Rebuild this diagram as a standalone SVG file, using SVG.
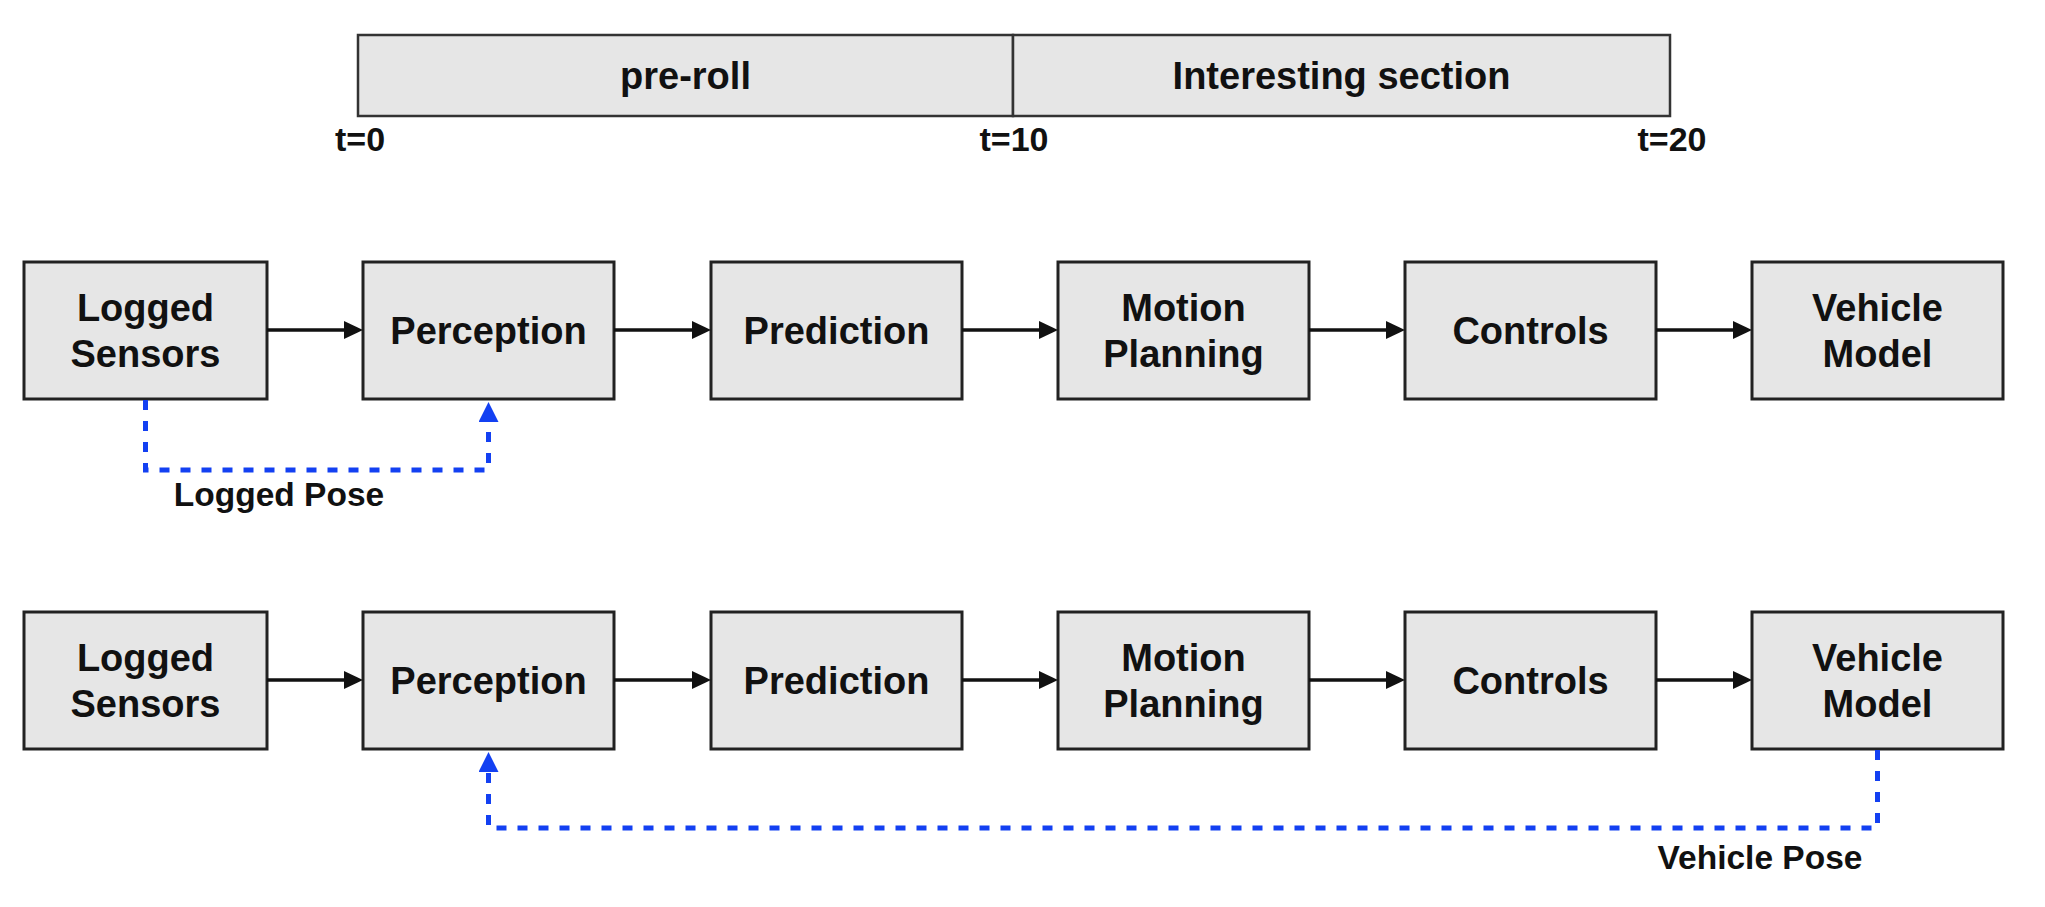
<svg xmlns="http://www.w3.org/2000/svg" width="2045" height="907" viewBox="0 0 2045 907">
<style>
  .box { fill: #e6e6e6; stroke: #222; stroke-width: 3; }
  .tl { fill: #e6e6e6; stroke: #333; stroke-width: 2.5; }
  .lbl { font-family: "Liberation Sans", Arial, Helvetica, sans-serif; font-weight: bold; font-size: 38px; fill: #111; text-anchor: middle; }
  .tlbl { font-family: "Liberation Sans", Arial, Helvetica, sans-serif; font-weight: bold; font-size: 34px; fill: #111; text-anchor: middle; }
  .plbl { font-family: "Liberation Sans", Arial, Helvetica, sans-serif; font-weight: bold; font-size: 33.5px; fill: #111; text-anchor: middle; }
  .flow { stroke: #111; stroke-width: 3.5; fill: none; marker-end: url(#ah); }
  .pose { stroke: #1340f2; stroke-width: 5; fill: none; stroke-dasharray: 10 11; marker-end: url(#bh); }
</style>
<defs>
  <marker id="ah" viewBox="0 0 19 18" markerWidth="19" markerHeight="18" markerUnits="userSpaceOnUse" refX="13" refY="9" orient="auto">
    <path d="M0,0 L19,9 L0,18 z" fill="#111"/>
  </marker>
  <marker id="bh" viewBox="0 0 20 20" markerWidth="20" markerHeight="20" markerUnits="userSpaceOnUse" refX="0" refY="10" orient="auto">
    <path d="M0,0 L20,10 L0,20 z" fill="#1340f2"/>
  </marker>
</defs>

<g id="timeline">
  <g id="pre-roll">
    <rect class="tl" x="358" y="35" width="655" height="81"/>
    <text class="lbl" x="685.5" y="89">pre-roll</text>
  </g>
  <g id="interesting-section">
    <rect class="tl" x="1013" y="35" width="657" height="81"/>
    <text class="lbl" x="1341.5" y="89">Interesting section</text>
  </g>
  <text class="tlbl" x="360" y="151">t=0</text>
  <text class="tlbl" x="1014" y="151">t=10</text>
  <text class="tlbl" x="1672" y="151">t=20</text>
</g>

<!-- Top row -->
<g id="top-logged-sensors">
  <rect class="box" x="24" y="262" width="243" height="137"/>
  <text class="lbl" x="145.5" y="321">Logged</text>
  <text class="lbl" x="145.5" y="367">Sensors</text>
</g>
<g id="top-perception">
  <rect class="box" x="363" y="262" width="251" height="137"/>
  <text class="lbl" x="488.5" y="344">Perception</text>
</g>
<g id="top-prediction">
  <rect class="box" x="711" y="262" width="251" height="137"/>
  <text class="lbl" x="836.5" y="344">Prediction</text>
</g>
<g id="top-motion-planning">
  <rect class="box" x="1058" y="262" width="251" height="137"/>
  <text class="lbl" x="1183.5" y="321">Motion</text>
  <text class="lbl" x="1183.5" y="367">Planning</text>
</g>
<g id="top-controls">
  <rect class="box" x="1405" y="262" width="251" height="137"/>
  <text class="lbl" x="1530.5" y="344">Controls</text>
</g>
<g id="top-vehicle-model">
  <rect class="box" x="1752" y="262" width="251" height="137"/>
  <text class="lbl" x="1877.5" y="321">Vehicle</text>
  <text class="lbl" x="1877.5" y="367">Model</text>
</g>

<!-- Bottom row -->
<g id="bot-logged-sensors">
  <rect class="box" x="24" y="612" width="243" height="137"/>
  <text class="lbl" x="145.5" y="671">Logged</text>
  <text class="lbl" x="145.5" y="717">Sensors</text>
</g>
<g id="bot-perception">
  <rect class="box" x="363" y="612" width="251" height="137"/>
  <text class="lbl" x="488.5" y="694">Perception</text>
</g>
<g id="bot-prediction">
  <rect class="box" x="711" y="612" width="251" height="137"/>
  <text class="lbl" x="836.5" y="694">Prediction</text>
</g>
<g id="bot-motion-planning">
  <rect class="box" x="1058" y="612" width="251" height="137"/>
  <text class="lbl" x="1183.5" y="671">Motion</text>
  <text class="lbl" x="1183.5" y="717">Planning</text>
</g>
<g id="bot-controls">
  <rect class="box" x="1405" y="612" width="251" height="137"/>
  <text class="lbl" x="1530.5" y="694">Controls</text>
</g>
<g id="bot-vehicle-model">
  <rect class="box" x="1752" y="612" width="251" height="137"/>
  <text class="lbl" x="1877.5" y="671">Vehicle</text>
  <text class="lbl" x="1877.5" y="717">Model</text>
</g>

<g id="connectors">
  <line class="flow" x1="267" y1="330" x2="357" y2="330"/>
  <line class="flow" x1="614" y1="330" x2="705" y2="330"/>
  <line class="flow" x1="962" y1="330" x2="1052" y2="330"/>
  <line class="flow" x1="1309" y1="330" x2="1399" y2="330"/>
  <line class="flow" x1="1656" y1="330" x2="1746" y2="330"/>

  <line class="flow" x1="267" y1="680" x2="357" y2="680"/>
  <line class="flow" x1="614" y1="680" x2="705" y2="680"/>
  <line class="flow" x1="962" y1="680" x2="1052" y2="680"/>
  <line class="flow" x1="1309" y1="680" x2="1399" y2="680"/>
  <line class="flow" x1="1656" y1="680" x2="1746" y2="680"/>

  <path class="pose" d="M145.5,400 V470 H488.5 V422"/>
  <path class="pose" d="M1877.5,750 V828 H488.5 V772"/>
  <text class="plbl" x="279" y="506">Logged Pose</text>
  <text class="plbl" x="1760" y="869">Vehicle Pose</text>
</g>
</svg>
